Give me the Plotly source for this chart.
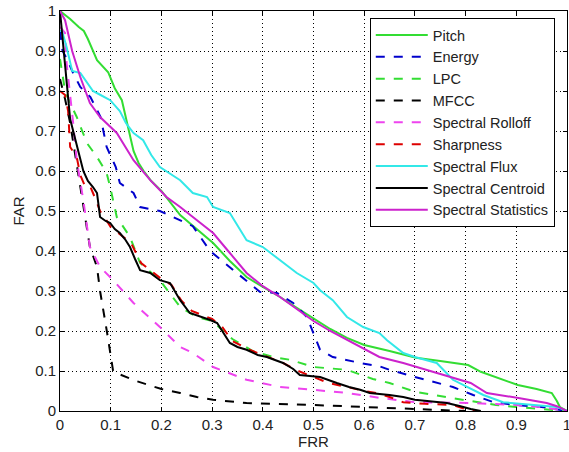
import plotly.graph_objects as go

# ---- data (FRR, FAR) ----
pitch_x = [0, 0.02, 0.037, 0.047, 0.055, 0.063, 0.073, 0.095, 0.108, 0.122, 0.13, 0.14, 0.145, 0.155, 0.165, 0.18, 0.2, 0.237, 0.27, 0.302, 0.335, 0.368, 0.4, 0.434, 0.467, 0.5, 0.533, 0.566, 0.6, 0.65, 0.702, 0.75, 0.805, 0.83, 0.87, 0.903, 0.94, 0.97, 0.98, 0.986, 1]
pitch_y = [1, 0.98, 0.96, 0.95, 0.93, 0.907, 0.877, 0.847, 0.807, 0.777, 0.73, 0.68, 0.65, 0.62, 0.6, 0.575, 0.55, 0.49, 0.455, 0.42, 0.375, 0.335, 0.31, 0.285, 0.258, 0.232, 0.205, 0.183, 0.165, 0.15, 0.133, 0.125, 0.115, 0.098, 0.08, 0.065, 0.055, 0.045, 0.025, 0.01, 0]

energy_x = [0, 0.005, 0.014, 0.024, 0.04, 0.06, 0.08, 0.092, 0.11, 0.118, 0.145, 0.158, 0.197, 0.237, 0.262, 0.296, 0.335, 0.368, 0.394, 0.428, 0.46, 0.487, 0.5, 0.513, 0.538, 0.592, 0.63, 0.65, 0.7, 0.775, 0.815, 0.855, 0.9, 0.95, 1]
energy_y = [0.95, 0.9, 0.88, 0.85, 0.81, 0.785, 0.735, 0.66, 0.61, 0.57, 0.545, 0.51, 0.5, 0.477, 0.462, 0.4, 0.36, 0.327, 0.298, 0.295, 0.27, 0.235, 0.195, 0.153, 0.135, 0.12, 0.112, 0.103, 0.085, 0.06, 0.04, 0.022, 0.015, 0.01, 0]

lpc_x = [0, 0.01, 0.02, 0.033, 0.053, 0.073, 0.092, 0.099, 0.112, 0.138, 0.158, 0.197, 0.237, 0.27, 0.3, 0.34, 0.38, 0.42, 0.454, 0.5, 0.566, 0.617, 0.65, 0.7, 0.775, 0.86, 0.9, 0.95, 1]
lpc_y = [0.88, 0.8, 0.77, 0.735, 0.67, 0.635, 0.595, 0.56, 0.485, 0.435, 0.37, 0.327, 0.26, 0.235, 0.225, 0.18, 0.15, 0.135, 0.128, 0.11, 0.103, 0.08, 0.07, 0.048, 0.032, 0.015, 0.01, 0.005, 0]

mfcc_x = [0, 0.01, 0.02, 0.03, 0.04, 0.05, 0.059, 0.073, 0.079, 0.093, 0.105, 0.15, 0.2, 0.237, 0.27, 0.302, 0.368, 0.5, 0.63, 0.7, 0.8]
mfcc_y = [0.83, 0.78, 0.72, 0.64, 0.56, 0.48, 0.41, 0.36, 0.3, 0.195, 0.098, 0.075, 0.055, 0.045, 0.035, 0.028, 0.02, 0.015, 0.008, 0.004, 0]

rolloff_x = [0, 0.01, 0.013, 0.02, 0.026, 0.033, 0.04, 0.046, 0.059, 0.079, 0.105, 0.145, 0.197, 0.237, 0.262, 0.302, 0.368, 0.434, 0.5, 0.566, 0.63, 0.7, 0.81, 0.9, 0.95, 1]
rolloff_y = [0.96, 0.945, 0.87, 0.795, 0.72, 0.627, 0.577, 0.527, 0.41, 0.36, 0.327, 0.27, 0.21, 0.16, 0.145, 0.11, 0.078, 0.06, 0.053, 0.045, 0.033, 0.022, 0.02, 0.015, 0.01, 0]

sharp_x = [0, 0.01, 0.016, 0.02, 0.033, 0.04, 0.05, 0.06, 0.07, 0.079, 0.09, 0.1, 0.12, 0.14, 0.16, 0.18, 0.2, 0.22, 0.24, 0.26, 0.28, 0.3, 0.32, 0.34, 0.37, 0.4, 0.44, 0.47, 0.5, 0.53, 0.566, 0.6, 0.625, 0.65, 0.677, 0.72, 0.775, 0.8, 0.82]
sharp_y = [0.8, 0.79, 0.75, 0.66, 0.635, 0.59, 0.56, 0.56, 0.53, 0.5, 0.48, 0.46, 0.44, 0.42, 0.37, 0.35, 0.33, 0.315, 0.275, 0.25, 0.24, 0.23, 0.21, 0.175, 0.155, 0.14, 0.12, 0.1, 0.085, 0.07, 0.06, 0.05, 0.045, 0.035, 0.022, 0.018, 0.015, 0.005, 0]

flux_x = [0, 0.004, 0.013, 0.024, 0.04, 0.065, 0.08, 0.099, 0.118, 0.13, 0.145, 0.164, 0.18, 0.197, 0.237, 0.262, 0.29, 0.302, 0.335, 0.368, 0.4, 0.434, 0.467, 0.5, 0.513, 0.538, 0.566, 0.598, 0.63, 0.645, 0.677, 0.7, 0.743, 0.775, 0.802, 0.835, 0.874, 0.94, 0.98, 1]
flux_y = [0.95, 0.95, 0.91, 0.85, 0.845, 0.8, 0.79, 0.777, 0.75, 0.72, 0.695, 0.677, 0.64, 0.61, 0.577, 0.545, 0.535, 0.51, 0.495, 0.427, 0.41, 0.377, 0.345, 0.32, 0.302, 0.277, 0.235, 0.21, 0.195, 0.177, 0.145, 0.135, 0.12, 0.078, 0.06, 0.04, 0.022, 0.015, 0.01, 0]

centroid_x = [0, 0.005, 0.01, 0.015, 0.02, 0.03, 0.04, 0.046, 0.055, 0.065, 0.073, 0.079, 0.09, 0.099, 0.108, 0.118, 0.128, 0.138, 0.148, 0.158, 0.178, 0.197, 0.217, 0.227, 0.237, 0.256, 0.276, 0.295, 0.31, 0.32, 0.335, 0.35, 0.368, 0.39, 0.408, 0.44, 0.46, 0.473, 0.513, 0.546, 0.57, 0.592, 0.611, 0.65, 0.677, 0.7, 0.763, 0.79, 0.81, 0.83]
centroid_y = [1, 0.93, 0.86, 0.8, 0.73, 0.68, 0.63, 0.6, 0.575, 0.56, 0.545, 0.485, 0.475, 0.47, 0.455, 0.445, 0.43, 0.41, 0.38, 0.352, 0.345, 0.327, 0.32, 0.3, 0.277, 0.245, 0.237, 0.228, 0.22, 0.2, 0.17, 0.16, 0.153, 0.14, 0.135, 0.12, 0.105, 0.09, 0.085, 0.07, 0.06, 0.053, 0.045, 0.04, 0.035, 0.028, 0.02, 0.012, 0.005, 0]

stats_x = [0, 0.01, 0.024, 0.04, 0.059, 0.079, 0.112, 0.145, 0.178, 0.21, 0.237, 0.27, 0.302, 0.335, 0.368, 0.4, 0.434, 0.467, 0.5, 0.533, 0.566, 0.6, 0.63, 0.677, 0.743, 0.81, 0.842, 0.87, 0.907, 0.96, 0.98, 1]
stats_y = [1, 0.977, 0.9, 0.835, 0.77, 0.735, 0.695, 0.627, 0.577, 0.535, 0.51, 0.478, 0.445, 0.395, 0.345, 0.312, 0.285, 0.255, 0.225, 0.2, 0.178, 0.155, 0.135, 0.12, 0.095, 0.07, 0.045, 0.04, 0.032, 0.02, 0.012, 0]

tick_vals = [0, 0.1, 0.2, 0.3, 0.4, 0.5, 0.6, 0.7, 0.8, 0.9, 1]
tick_text = ["0", "0.1", "0.2", "0.3", "0.4", "0.5", "0.6", "0.7", "0.8", "0.9", "1"]

series = [
    ("Pitch", pitch_x, pitch_y, "#33dd33", "solid"),
    ("Energy", energy_x, energy_y, "#0000cc", "dash"),
    ("LPC", lpc_x, lpc_y, "#33dd33", "dash"),
    ("MFCC", mfcc_x, mfcc_y, "#000000", "dash"),
    ("Spectral Rolloff", rolloff_x, rolloff_y, "#ee44ee", "dash"),
    ("Sharpness", sharp_x, sharp_y, "#dd0000", "dash"),
    ("Spectral Flux", flux_x, flux_y, "#33e8e8", "solid"),
    ("Spectral Centroid", centroid_x, centroid_y, "#000000", "solid"),
    ("Spectral Statistics", stats_x, stats_y, "#cc22cc", "solid"),
]

fig = go.Figure()
for name, xs, ys, color, dash in series:
    fig.add_trace(go.Scatter(x=xs, y=ys, mode="lines", name=name,
                             line=dict(color=color, width=2, dash=dash)))

axis_common = dict(
    range=[0, 1], tickvals=tick_vals, ticktext=tick_text,
    showline=True, linecolor="black", linewidth=1, mirror="ticks",
    ticks="inside", ticklen=4, tickcolor="black",
    showgrid=True, gridcolor="black", griddash="1px,3px", gridwidth=1,
    zeroline=False, tickfont=dict(size=15, color="#222"),
    ticklabeloverflow="allow", automargin=False,
)

fig.update_layout(
    width=569, height=452,
    margin=dict(l=60, r=2, t=11, b=41, autoexpand=False),
    paper_bgcolor="white", plot_bgcolor="white",
    font=dict(family="Liberation Sans, Arial, sans-serif", size=15, color="#222"),
    xaxis=dict(title=dict(text="FRR", standoff=2, font=dict(size=15)), **axis_common),
    yaxis=dict(title=dict(text="FAR", standoff=6, font=dict(size=15)), **axis_common),
    legend=dict(x=0.611, y=0.9825, xanchor="left", yanchor="top",
                bgcolor="white", bordercolor="black", borderwidth=1,
                font=dict(size=14.5), itemwidth=52, tracegroupgap=0),
    showlegend=True,
)

fig.write_html("out.html", config={"displayModeBar": False},
               post_script="document.body.style.margin='0';")
